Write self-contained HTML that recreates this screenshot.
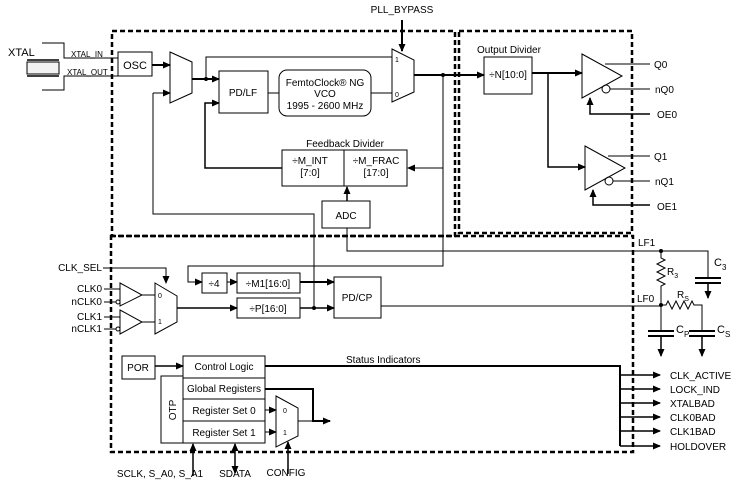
<!DOCTYPE html>
<html><head><meta charset="utf-8"><style>
html,body{margin:0;padding:0;background:#fff}
svg{display:block;font-family:"Liberation Sans",sans-serif;font-size:10px}
</style></head><body>
<svg width="737" height="484" viewBox="0 0 737 484" xmlns="http://www.w3.org/2000/svg">
<defs>
<marker id="a" markerWidth="8" markerHeight="8" refX="7" refY="4" orient="auto" markerUnits="userSpaceOnUse"><path d="M0,0.5 L8,4 L0,7.5z" fill="#000"/></marker>
</defs>
<g fill="none" stroke="#000" stroke-width="1">
<rect x="112" y="31" width="343" height="205" stroke-width="2.5" stroke-dasharray="5,3"/>
<rect x="459" y="31" width="173" height="202" stroke-width="2.5" stroke-dasharray="5,3"/>
<rect x="111" y="236" width="522" height="216" stroke-width="2.5" stroke-dasharray="5,3"/>
<path d="M42,43 H64 V58 H118 M42,90 H64 V76 H118"/>
<rect x="27" y="62" width="32" height="12" fill="#f2f2f2"/>
<path d="M27,60 H59 M27,76 H59" stroke-width="1.5"/>
<rect x="118" y="52" width="34" height="24"/>
<path d="M152,65 H170" stroke-width="2" marker-end="url(#a)"/>
<path d="M170,52 L192,62 L192,93 L170,103 Z"/>
<path d="M192,79 H219" stroke-width="2" marker-end="url(#a)"/>
<path d="M206,79 V57 H392"/>
<rect x="219" y="71" width="49" height="42"/>
<rect x="279" y="70" width="92" height="46" rx="8"/>
<path d="M268,93 H279 M371,93 H392"/>
<path d="M392,49 L414,60 L414,92 L392,102 Z"/>
<path d="M402,20 V51" stroke-width="2" marker-end="url(#a)"/>
<path d="M414,75 H484" stroke-width="2" marker-end="url(#a)"/>
<path d="M443,75 V266 H188 V282 H202" marker-end="url(#a)"/>
<path d="M443,168 H408" stroke-width="1" marker-end="url(#a)"/>
<rect x="282" y="150" width="62" height="36"/>
<rect x="344" y="150" width="63" height="36"/>
<path d="M282,168 H205 V103 H219" stroke-width="1.5" marker-end="url(#a)"/>
<rect x="322" y="201" width="48" height="27"/>
<path d="M347,201 V187" stroke-width="1.5" marker-end="url(#a)"/>
<path d="M347,228 V251 H708 V278"/>
<path d="M153,93 H170" marker-end="url(#a)"/>
<path d="M153,93 V214 H314 V308"/>
<rect x="484" y="57" width="48" height="37"/>
<path d="M532,73 H582" stroke-width="2" marker-end="url(#a)"/>
<path d="M548,73 V167 H585" stroke-width="1.5" marker-end="url(#a)"/>
<path d="M582,54 L622,76 L582,98 Z"/>
<path d="M605,64 H650 M610,89 H650"/>
<circle cx="606" cy="89" r="4"/>
<path d="M650,114 H590 V98" stroke-width="1.5" marker-end="url(#a)"/>
<path d="M585,146 L625,168 L585,190 Z"/>
<path d="M608,156 H650 M613,181 H650"/>
<circle cx="609" cy="181" r="4"/>
<path d="M650,205 H593 V190" stroke-width="1.5" marker-end="url(#a)"/>
<path d="M103,268 H166 V283" marker-end="url(#a)"/>
<path d="M155,283 L177,296 L177,322 L155,334 Z"/>
<path d="M120,283 L142,295 L120,306 Z M120,310 L142,322 L120,334 Z"/>
<path d="M142,295 H155 M142,322 H155"/>
<path d="M104,289 H120 M104,302 H116 M104,317 H120 M104,329 H116"/>
<circle cx="118" cy="302" r="2"/><circle cx="118" cy="329" r="2"/>
<path d="M177,308 H237" stroke-width="1.5" marker-end="url(#a)"/>
<rect x="202" y="273" width="25" height="20"/>
<path d="M227,282 H237" marker-end="url(#a)"/>
<rect x="237" y="273" width="63" height="20"/>
<rect x="237" y="298" width="63" height="20"/>
<path d="M300,282 H334" stroke-width="2" marker-end="url(#a)"/>
<path d="M300,308 H334" stroke-width="1.5" marker-end="url(#a)"/>
<rect x="334" y="277" width="47" height="41"/>
<path d="M381,306 H661"/>
<path d="M661,251 V258 l4,2 -8,4 8,4 -8,4 8,4 -8,4 8,4 -4,2 V330"/>
<path d="M661,305 H666 l2,-4 4,8 4,-8 4,8 4,-8 4,8 4,-8 2,4 H702 V330"/>
<path d="M648,331 H674 M648,336 H674 M689,331 H715 M689,336 H715 M695,278 H721 M695,283 H721" stroke-width="2"/>
<path d="M661,336 V356" stroke-width="1.5" marker-end="url(#a)"/>
<path d="M702,336 V356" stroke-width="1.5" marker-end="url(#a)"/>
<path d="M708,283 V298" stroke-width="1.5" marker-end="url(#a)"/>
<rect x="122" y="356" width="33" height="23"/>
<path d="M155,366 H183" stroke-width="1.5" marker-end="url(#a)"/>
<rect x="183" y="356" width="82" height="22"/>
<rect x="161" y="376" width="22" height="67"/>
<rect x="183" y="378" width="82" height="21"/>
<rect x="183" y="399" width="82" height="22"/>
<rect x="183" y="421" width="82" height="22"/>
<path d="M265,366 H620 V446" stroke-width="2"/>
<g stroke-width="1.5">
<path d="M620,375 H660" marker-end="url(#a)"/><path d="M620,389 H660" marker-end="url(#a)"/>
<path d="M620,403 H660" marker-end="url(#a)"/><path d="M620,417 H660" marker-end="url(#a)"/>
<path d="M620,431 H660" marker-end="url(#a)"/><path d="M620,446 H660" marker-end="url(#a)"/>
</g>
<path d="M276,396 L298,408 L298,436 L276,447 Z"/>
<path d="M265,410 H276" marker-end="url(#a)"/>
<path d="M265,432 H276" marker-end="url(#a)"/>
<path d="M265,389 H313 V421 H330" stroke-width="2" marker-end="url(#a)"/>
<path d="M298,421 H313"/>
<path d="M193,476 V444" stroke-width="1.5" marker-end="url(#a)"/>
<path d="M235,458 V444" stroke-width="1.5" marker-end="url(#a)"/>
<path d="M235,458 V473" stroke-width="1.5" marker-end="url(#a)"/>
<path d="M288,474 V442" stroke-width="1.5" marker-end="url(#a)"/>
</g>
<g fill="#000">
<circle cx="206" cy="79" r="2"/><circle cx="443" cy="75" r="2"/><circle cx="314" cy="308" r="2"/>
<circle cx="661" cy="251" r="2"/><circle cx="661" cy="305" r="2"/>
<text x="8" y="56" font-size="11">XTAL</text>
<text x="71" y="57" font-size="8">XTAL_IN</text>
<text x="67" y="75" font-size="8">XTAL_OUT</text>
<text x="135" y="69" font-size="11" text-anchor="middle">OSC</text>
<text x="243" y="96" text-anchor="middle">PD/LF</text>
<text x="325" y="86" text-anchor="middle">FemtoClock® NG</text>
<text x="325" y="97" text-anchor="middle">VCO</text>
<text x="325" y="109" text-anchor="middle">1995 - 2600 MHz</text>
<text x="402" y="13" text-anchor="middle">PLL_BYPASS</text>
<text x="395" y="62" font-size="7">1</text><text x="395" y="97" font-size="7">0</text>
<text x="345" y="147" text-anchor="middle">Feedback Divider</text>
<text x="310" y="164" text-anchor="middle">÷M_INT</text><text x="310" y="176" text-anchor="middle">[7:0]</text>
<text x="376" y="164" text-anchor="middle">÷M_FRAC</text><text x="376" y="176" text-anchor="middle">[17:0]</text>
<text x="346" y="219" text-anchor="middle">ADC</text>
<text x="509" y="53" text-anchor="middle">Output Divider</text>
<text x="508" y="78" text-anchor="middle">÷N[10:0]</text>
<text x="654" y="68">Q0</text><text x="655" y="93">nQ0</text><text x="657" y="118">OE0</text>
<text x="654" y="160">Q1</text><text x="655" y="185">nQ1</text><text x="657" y="210">OE1</text>
<text x="102" y="271" text-anchor="end">CLK_SEL</text>
<text x="102" y="292" text-anchor="end">CLK0</text><text x="102" y="305" text-anchor="end">nCLK0</text>
<text x="102" y="320" text-anchor="end">CLK1</text><text x="102" y="332" text-anchor="end">nCLK1</text>
<text x="158" y="298" font-size="7">0</text><text x="158" y="324" font-size="7">1</text>
<text x="214" y="287" text-anchor="middle">÷4</text>
<text x="268" y="287" text-anchor="middle">÷M1[16:0]</text>
<text x="268" y="312" text-anchor="middle">÷P[16:0]</text>
<text x="357" y="301" text-anchor="middle">PD/CP</text>
<text x="638" y="246">LF1</text><text x="637" y="302">LF0</text>
<text x="667" y="275">R<tspan font-size="7" dy="3">3</tspan></text>
<text x="677" y="298">R<tspan font-size="7" dy="3">S</tspan></text>
<text x="714" y="266" font-size="11">C<tspan font-size="8" dy="4">3</tspan></text>
<text x="676" y="333" font-size="11">C<tspan font-size="8" dy="4">P</tspan></text>
<text x="717" y="333" font-size="11">C<tspan font-size="8" dy="4">S</tspan></text>
<text x="138" y="371" text-anchor="middle">POR</text>
<text x="224" y="370" text-anchor="middle">Control Logic</text>
<text x="346" y="363">Status Indicators</text>
<text x="224" y="392" text-anchor="middle">Global Registers</text>
<text x="224" y="414" text-anchor="middle">Register Set 0</text>
<text x="224" y="436" text-anchor="middle">Register Set 1</text>
<text transform="translate(176,410) rotate(-90)" text-anchor="middle">OTP</text>
<text x="283" y="413" font-size="7">0</text><text x="283" y="435" font-size="7">1</text>
<text x="670" y="379">CLK_ACTIVE</text><text x="670" y="393">LOCK_IND</text>
<text x="670" y="407">XTALBAD</text><text x="670" y="421">CLK0BAD</text>
<text x="670" y="435">CLK1BAD</text><text x="670" y="450">HOLDOVER</text>
<text x="160" y="477" text-anchor="middle">SCLK, S_A0, S_A1</text>
<text x="235" y="477" text-anchor="middle">SDATA</text>
<text x="286" y="476" text-anchor="middle">CONFIG</text>
</g>
</svg>
</body></html>
